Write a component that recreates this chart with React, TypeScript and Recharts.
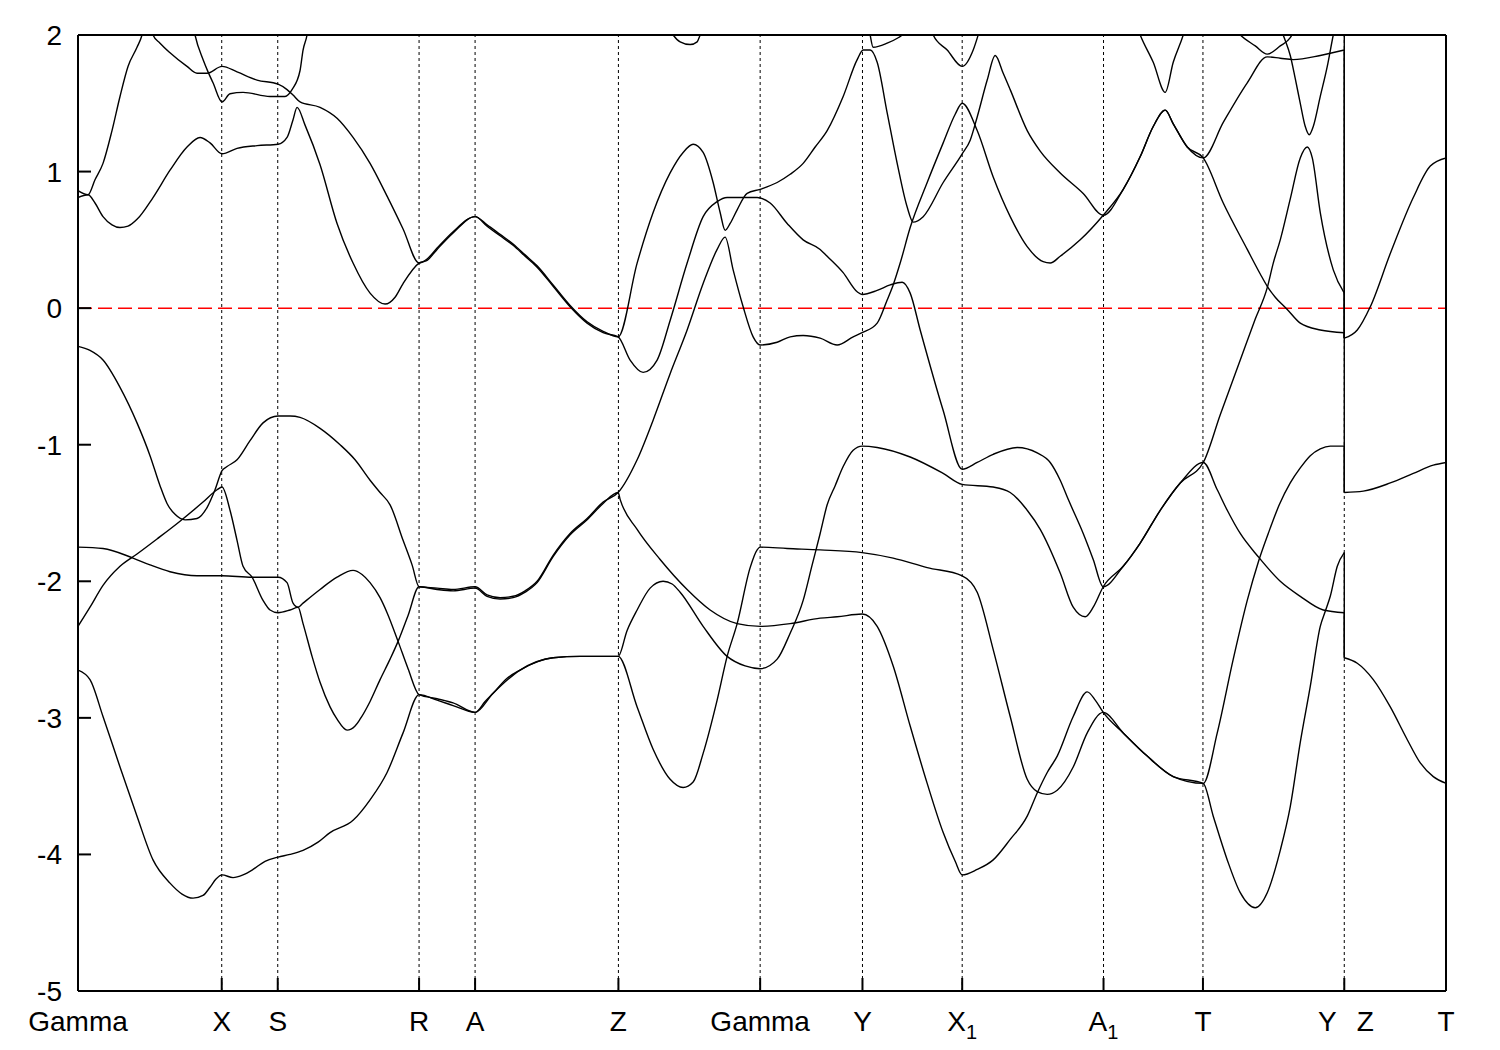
import React from 'react';
import { LineChart, Line, XAxis, YAxis, ReferenceLine } from 'recharts';

type P = [number, number];

const FONT = "'Liberation Sans', Arial, Helvetica, sans-serif";

// high-symmetry k positions (path units) and their labels
const symPoints = [0, 143.7, 199.7, 341, 397, 540.3, 682, 784.3, 884, 1025.3, 1124.7, 1266, 1367.7];
const symLabels = ['Gamma', 'X', 'S', 'R', 'A', 'Z', 'Gamma', 'Y', 'X1', 'A1', 'T', 'Y|Z', 'T'];
const energyTicks = [-5, -4, -3, -2, -1, 0, 1, 2];
const kMax = 1367.7;

// bands from Gamma up to Y (before the Y|Z jump)
const band1: P[] = [[0,-2.65],[12,-2.72],[25,-2.99],[42,-3.36],[59,-3.72],[75,-4.04],[92,-4.21],[104,-4.29],[115,-4.32],[125,-4.30],[132,-4.24],[138,-4.18],[144,-4.15],[155,-4.17],[165,-4.15],[175,-4.11],[187,-4.05],[200,-4.02],[212,-4.00],[225,-3.97],[240,-3.91],[252,-3.84],[275,-3.75],[292,-3.60],[309,-3.40],[325,-3.11],[341,-2.83],[359,-2.87],[375,-2.91],[397,-2.96],[407,-2.88],[415,-2.82],[429,-2.71],[442,-2.65],[459,-2.59],[475,-2.56],[502,-2.55],[522,-2.55],[540,-2.55],[559,-2.92],[575,-3.23],[592,-3.45],[605,-3.51],[615,-3.47],[625,-3.26],[639,-2.87],[649,-2.55],[659,-2.31],[672,-1.90],[679,-1.77],[682,-1.75],[709,-1.76],[742,-1.77],[784,-1.79],[815,-1.83],[849,-1.90],[884,-1.96],[899,-2.08],[915,-2.50],[932,-2.99],[949,-3.45],[959,-3.54],[969,-3.56],[979,-3.53],[995,-3.36],[1009,-3.11],[1025,-2.96],[1045,-3.11],[1069,-3.28],[1095,-3.43],[1125,-3.48],[1135,-3.72],[1149,-4.04],[1162,-4.28],[1177,-4.39],[1189,-4.28],[1202,-3.97],[1212,-3.65],[1222,-3.18],[1232,-2.77],[1242,-2.33],[1247,-2.22],[1252,-2.11],[1259,-1.89],[1266,-1.79]];

const band2: P[] = [[0,-2.33],[12,-2.19],[25,-2.03],[42,-1.89],[59,-1.80],[79,-1.69],[102,-1.56],[125,-1.42],[139,-1.33],[144,-1.31],[152,-1.48],[159,-1.70],[165,-1.89],[174,-1.97],[185,-2.14],[192,-2.21],[200,-2.23],[212,-2.21],[220,-2.19],[225,-2.31],[234,-2.55],[242,-2.74],[252,-2.92],[259,-3.01],[269,-3.09],[277,-3.06],[282,-3.01],[292,-2.88],[302,-2.72],[312,-2.57],[320,-2.44],[330,-2.25],[341,-2.04],[359,-2.06],[375,-2.07],[397,-2.05],[409,-2.11],[422,-2.13],[435,-2.12],[447,-2.08],[459,-2.01],[475,-1.82],[492,-1.66],[509,-1.55],[525,-1.43],[540,-1.35],[542,-1.40],[559,-1.62],[582,-1.84],[609,-2.06],[632,-2.21],[659,-2.31],[682,-2.33],[712,-2.31],[742,-2.27],[759,-2.26],[784,-2.24],[799,-2.33],[815,-2.62],[832,-3.06],[849,-3.48],[865,-3.84],[877,-4.05],[884,-4.15],[899,-4.11],[915,-4.04],[932,-3.89],[949,-3.72],[959,-3.55],[969,-3.40],[979,-3.28],[995,-2.99],[1009,-2.81],[1017,-2.87],[1025,-2.96],[1045,-3.11],[1069,-3.28],[1095,-3.43],[1125,-3.48],[1139,-3.11],[1155,-2.57],[1169,-2.14],[1180,-1.86],[1190,-1.65],[1201,-1.44],[1212,-1.28],[1222,-1.17],[1232,-1.08],[1242,-1.03],[1252,-1.01],[1266,-1.01]];

const band3: P[] = [[0,-1.75],[25,-1.76],[55,-1.83],[72,-1.88],[92,-1.93],[119,-1.96],[144,-1.96],[174,-1.97],[200,-1.97],[209,-2.01],[215,-2.16],[220,-2.19],[225,-2.16],[242,-2.06],[259,-1.97],[275,-1.92],[284,-1.95],[292,-2.01],[302,-2.12],[309,-2.23],[320,-2.44],[330,-2.64],[341,-2.83],[359,-2.86],[375,-2.89],[397,-2.96],[415,-2.82],[442,-2.65],[475,-2.56],[502,-2.55],[540,-2.55],[549,-2.36],[559,-2.21],[572,-2.05],[585,-2.00],[594,-2.02],[602,-2.08],[625,-2.33],[649,-2.55],[667,-2.62],[682,-2.64],[699,-2.57],[712,-2.38],[725,-2.14],[734,-1.88],[742,-1.65],[749,-1.44],[757,-1.30],[765,-1.16],[775,-1.04],[784,-1.01],[799,-1.02],[832,-1.09],[865,-1.21],[884,-1.29],[915,-1.31],[932,-1.35],[949,-1.48],[962,-1.62],[982,-1.94],[995,-2.19],[1007,-2.26],[1015,-2.19],[1025,-2.04],[1045,-1.89],[1062,-1.72],[1082,-1.48],[1102,-1.28],[1125,-1.13],[1139,-1.33],[1149,-1.48],[1162,-1.65],[1180,-1.82],[1202,-2.00],[1222,-2.11],[1245,-2.21],[1266,-2.23]];

const band4: P[] = [[0,-0.28],[12,-0.31],[25,-0.38],[42,-0.58],[59,-0.84],[72,-1.08],[82,-1.30],[89,-1.43],[97,-1.51],[107,-1.55],[119,-1.54],[129,-1.46],[137,-1.33],[144,-1.19],[149,-1.16],[159,-1.11],[172,-0.97],[185,-0.84],[200,-0.79],[212,-0.79],[222,-0.80],[242,-0.88],[262,-1.00],[277,-1.11],[292,-1.26],[302,-1.35],[312,-1.44],[325,-1.70],[334,-1.88],[341,-2.04],[359,-2.05],[375,-2.06],[397,-2.04],[409,-2.10],[422,-2.12],[435,-2.11],[447,-2.07],[459,-2.00],[475,-1.81],[492,-1.65],[509,-1.54],[525,-1.42],[540,-1.35],[559,-1.11],[575,-0.82],[592,-0.48],[609,-0.16],[625,0.18],[639,0.43],[647,0.52],[655,0.28],[665,0.01],[675,-0.21],[682,-0.27],[699,-0.25],[712,-0.21],[725,-0.20],[742,-0.22],[759,-0.27],[775,-0.21],[784,-0.18],[799,-0.11],[809,0.06],[815,0.17],[822,0.33],[832,0.59],[849,0.92],[865,1.21],[877,1.42],[884,1.50],[899,1.30],[915,0.96],[932,0.67],[949,0.45],[965,0.34],[972,0.33],[982,0.38],[1002,0.50],[1025,0.68],[1045,0.87],[1062,1.11],[1075,1.33],[1087,1.45],[1095,1.35],[1109,1.18],[1125,1.10],[1145,0.77],[1169,0.43],[1182,0.25],[1189,0.16],[1197,0.08],[1209,-0.01],[1222,-0.11],[1242,-0.16],[1266,-0.18]];

const band5: P[] = [[0,0.81],[10,0.83],[17,0.77],[25,0.67],[34,0.61],[42,0.59],[50,0.60],[59,0.65],[75,0.81],[92,1.01],[109,1.18],[122,1.25],[132,1.21],[144,1.13],[159,1.17],[179,1.19],[200,1.20],[209,1.25],[215,1.38],[219,1.47],[227,1.34],[242,1.05],[259,0.62],[275,0.33],[292,0.11],[307,0.03],[317,0.08],[325,0.18],[341,0.33],[349,0.35],[359,0.43],[375,0.55],[397,0.67],[409,0.60],[422,0.53],[435,0.46],[447,0.38],[459,0.30],[475,0.16],[492,0.01],[509,-0.11],[525,-0.18],[540,-0.21],[552,-0.38],[565,-0.47],[579,-0.38],[592,-0.09],[609,0.33],[625,0.67],[639,0.78],[649,0.81],[679,0.81],[692,0.77],[709,0.62],[725,0.50],[742,0.43],[749,0.38],[765,0.26],[779,0.12],[784,0.10],[799,0.13],[812,0.17],[824,0.19],[832,0.11],[842,-0.16],[865,-0.75],[884,-1.18],[899,-1.13],[915,-1.07],[939,-1.02],[959,-1.06],[972,-1.13],[982,-1.26],[990,-1.40],[1005,-1.65],[1015,-1.84],[1025,-2.04],[1045,-1.89],[1062,-1.72],[1082,-1.48],[1102,-1.28],[1125,-1.13],[1142,-0.78],[1162,-0.38],[1177,-0.08],[1189,0.15],[1195,0.33],[1202,0.50],[1212,0.80],[1222,1.10],[1229,1.18],[1234,1.10],[1242,0.70],[1255,0.28],[1266,0.11]];

const band6: P[] = [[0,0.86],[10,0.83],[17,0.94],[25,1.06],[34,1.30],[42,1.55],[50,1.77],[59,1.91],[64,2.0],[69.5,2.2],[75,2.0],[82,1.94],[92,1.87],[109,1.77],[119,1.72],[129,1.72],[144,1.77],[159,1.73],[179,1.67],[200,1.64],[209,1.60],[215,1.56],[222,1.51],[242,1.47],[259,1.39],[275,1.25],[292,1.06],[309,0.82],[325,0.58],[341,0.33],[349,0.36],[359,0.44],[375,0.56],[397,0.67],[409,0.61],[422,0.54],[435,0.47],[447,0.39],[459,0.31],[475,0.17],[492,0.02],[509,-0.10],[525,-0.17],[540,-0.21],[559,0.33],[575,0.70],[592,0.99],[605,1.14],[615,1.20],[625,1.14],[635,0.92],[642,0.70],[647,0.57],[652,0.62],[659,0.72],[669,0.84],[682,0.87],[699,0.92],[712,0.98],[725,1.06],[737,1.18],[749,1.30],[765,1.55],[779,1.82],[785,1.89],[792,1.89],[799,1.80],[809,1.43],[819,1.06],[829,0.74],[835,0.63],[845,0.67],[865,0.92],[884,1.13],[892,1.23],[899,1.40],[909,1.67],[917,1.85],[925,1.72],[932,1.60],[949,1.30],[962,1.15],[982,0.99],[1005,0.84],[1025,0.68],[1045,0.87],[1062,1.11],[1075,1.33],[1087,1.45],[1095,1.35],[1109,1.18],[1125,1.10],[1145,1.36],[1169,1.65],[1189,1.84],[1202,1.83],[1215,1.82],[1242,1.85],[1266,1.89]];

// band near Y|Z top that reaches above the window
const band7: P[] = [[1202,2.05],[1207,1.96],[1212,1.85],[1217,1.68],[1222,1.50],[1227,1.33],[1231,1.27],[1235,1.33],[1242,1.55],[1249,1.77],[1255,2.0],[1258,2.1],[1266,2.4]];

// bands from Z (after the jump) to T
const zt1: P[] = [[1266,-2.56],[1279,-2.60],[1295,-2.72],[1312,-2.92],[1329,-3.16],[1342,-3.33],[1355,-3.43],[1368,-3.48]];
const zt2: P[] = [[1266,-1.35],[1285,-1.34],[1312,-1.28],[1335,-1.21],[1355,-1.15],[1368,-1.13]];
const zt3: P[] = [[1266,-0.22],[1279,-0.16],[1292,0.01],[1312,0.40],[1335,0.81],[1352,1.04],[1368,1.10]];

// fragments near the top edge
const top1: P[] = [[112,2.2],[117,2.0],[125,1.82],[130,1.73],[135,1.65],[144,1.51],[152,1.57],[165,1.58],[192,1.55],[207,1.55],[214,1.60],[222,1.74],[225,1.89],[229,2.0],[232,2.15]];
const top2: P[] = [[587,2.1],[595,2.0],[602,1.95],[612,1.93],[619,1.95],[622,2.0],[627,2.1]];
const top3: P[] = [[788,2.2],[792,2.0],[795,1.91],[809,1.94],[820,1.98],[824,2.0],[832,2.1]];
const top4: P[] = [[850,2.1],[855,2.0],[869,1.89],[884,1.77],[895,1.89],[900,2.0],[904,2.1]];
const top5: P[] = [[1057,2.1],[1062,2.0],[1075,1.80],[1087,1.58],[1095,1.80],[1105,2.0],[1109,2.1]];
const top6: P[] = [[1150,2.1],[1162,2.0],[1177,1.92],[1189,1.86],[1202,1.92],[1212,1.98],[1220,2.1]];

const leftBands = [band1, band2, band3, band4, band5, band6, band7];
const rightBands = [zt1, zt2, zt3];
// which Z-side band each Y-side band jumps to
const jumpTo = [0, 1, 0, 1, 2, 2, 2];
const topFragments = [top1, top2, top3, top4, top5, top6];

const toData = (pts: P[]) => pts.map(([k, e]) => ({ k, e }));

const connectors: P[][] = leftBands.map((b, i) => [b[b.length - 1], rightBands[jumpTo[i]][0]]);

const KTick = (props: any) => {
  const { x, y, payload } = props;
  const idx = symPoints.indexOf(payload.value);
  const label = symLabels[idx] ?? '';
  const base = y + 40;
  const st = { fontFamily: FONT, fontSize: 28, fill: '#000' } as const;
  if (label === 'Y|Z') {
    return (
      <g>
        <text x={x - 17} y={base} textAnchor="middle" {...st}>Y</text>
        <text x={x + 21} y={base} textAnchor="middle" {...st}>Z</text>
      </g>
    );
  }
  if (label.length === 2 && label.endsWith('1')) {
    return (
      <text x={x} y={base} textAnchor="middle" {...st}>
        <tspan>{label[0]}</tspan>
        <tspan fontSize={20} dy={8}>1</tspan>
      </text>
    );
  }
  return <text x={x} y={base} textAnchor="middle" {...st}>{label}</text>;
};

export default function App() {
  const lineProps = {
    stroke: '#000',
    strokeWidth: 1.4,
    dot: false,
    activeDot: false,
    isAnimationActive: false,
    dataKey: 'e',
  } as const;
  return (
    <div style={{ width: 1484, height: 1034, background: '#fff' }}>
      <LineChart width={1484} height={1034} margin={{ top: 17, right: 36, bottom: 6, left: 10 }}>
        <XAxis
          type="number"
          dataKey="k"
          domain={[0, kMax]}
          allowDataOverflow
          ticks={symPoints}
          interval={0}
          height={45}
          tickSize={-13}
          tickMargin={13}
          tick={<KTick />}
          axisLine={{ stroke: '#000', strokeWidth: 2 }}
          tickLine={{ stroke: '#000', strokeWidth: 2 }}
        />
        <XAxis
          xAxisId="top"
          orientation="top"
          type="number"
          dataKey="k"
          domain={[0, kMax]}
          allowDataOverflow
          ticks={symPoints}
          interval={0}
          height={10}
          tickSize={-13}
          tick={false}
          axisLine={{ stroke: '#000', strokeWidth: 2 }}
          tickLine={{ stroke: '#000', strokeWidth: 2 }}
        />
        <YAxis
          type="number"
          domain={[-5, 2]}
          allowDataOverflow
          ticks={energyTicks}
          interval={0}
          width={60}
          tickSize={-13}
          tickMargin={29}
          tick={{ fontFamily: FONT, fontSize: 28, fill: '#000' }}
          axisLine={{ stroke: '#000', strokeWidth: 2 }}
          tickLine={{ stroke: '#000', strokeWidth: 2 }}
        />
        <YAxis
          yAxisId="right"
          orientation="right"
          type="number"
          domain={[-5, 2]}
          allowDataOverflow
          ticks={energyTicks}
          interval={0}
          width={10}
          tickSize={-13}
          tick={false}
          axisLine={{ stroke: '#000', strokeWidth: 2 }}
          tickLine={{ stroke: '#000', strokeWidth: 2 }}
        />
        {symPoints.slice(1, -1).map((k, i) => (
          <ReferenceLine key={'v' + i} x={k} stroke="#000" strokeWidth={1} strokeDasharray="3 3" />
        ))}
        <ReferenceLine y={0} stroke="#ff0000" strokeWidth={1.5} strokeDasharray="14 6" />
        {leftBands.map((b, i) => (
          <Line key={'L' + i} data={toData(b)} type="monotone" {...lineProps} />
        ))}
        {rightBands.map((b, i) => (
          <Line key={'R' + i} data={toData(b)} type="monotone" {...lineProps} />
        ))}
        {connectors.map((b, i) => (
          <Line key={'C' + i} data={toData(b)} type="linear" {...lineProps} />
        ))}
        {topFragments.map((b, i) => (
          <Line key={'T' + i} data={toData(b)} type="monotone" {...lineProps} />
        ))}
      </LineChart>
    </div>
  );
}
